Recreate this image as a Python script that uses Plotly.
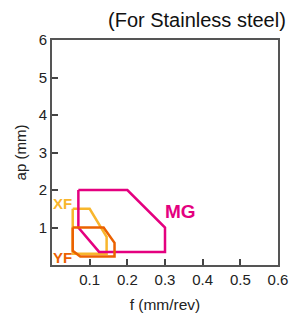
import plotly.graph_objects as go

# Data
mg_f = [0.07, 0.2, 0.3, 0.3, 0.125, 0.07, 0.07]
mg_ap = [2.0, 2.0, 1.0, 0.35, 0.35, 1.0, 2.0]
xf_f = [0.055, 0.1, 0.145, 0.145, 0.055, 0.055]
xf_ap = [1.5, 1.5, 0.75, 0.3, 0.3, 1.5]
yf_f = [0.055, 0.137, 0.166, 0.166, 0.075, 0.055, 0.055]
yf_ap = [1.0, 1.0, 0.59, 0.23, 0.23, 0.38, 1.0]
x_ticks = [0.1, 0.2, 0.3, 0.4, 0.5, 0.6]
y_ticks = [1, 2, 3, 4, 5, 6]

C_MG = "#E4007F"
C_XF = "#F8B62D"
C_YF = "#EB6100"

fig = go.Figure()
fig.add_trace(go.Scatter(x=xf_f, y=xf_ap, mode="lines", line=dict(color=C_XF, width=2.5), hoverinfo="skip"))
fig.add_trace(go.Scatter(x=mg_f, y=mg_ap, mode="lines", line=dict(color=C_MG, width=2.5), hoverinfo="skip"))
fig.add_trace(go.Scatter(x=yf_f, y=yf_ap, mode="lines", line=dict(color=C_YF, width=2.5), hoverinfo="skip"))

font = "Liberation Sans, Arial, sans-serif"
fig.add_annotation(x=0.34, y=1.42, text="<b>MG</b>", showarrow=False, font=dict(color=C_MG, size=19, family=font))
fig.add_annotation(x=0.028, y=1.65, text="<b>XF</b>", showarrow=False, font=dict(color=C_XF, size=15, family=font))
fig.add_annotation(x=0.028, y=0.2, text="<b>YF</b>", showarrow=False, font=dict(color=C_YF, size=15, family=font))

fig.add_annotation(xref="paper", yref="paper", x=1.0, xshift=10, y=1.0, yshift=20, xanchor="right", yanchor="middle",
                   text="(For Stainless steel)", showarrow=False, font=dict(size=20, color="#111", family=font))

axis_common = dict(showgrid=False, zeroline=False, showline=True, linecolor="#555", linewidth=2,
                   mirror=True, ticks="inside", ticklen=6, tickwidth=1.5, tickcolor="#444",
                   automargin=False,
                   tickfont=dict(size=15, color="#222", family=font))
fig.update_xaxes(range=[0, 0.6], tickvals=x_ticks, ticktext=[str(v) for v in x_ticks],
                 title=dict(text="f (mm/rev)", font=dict(size=15.5, color="#222", family=font), standoff=12),
                 **axis_common)
fig.update_yaxes(range=[0, 6], tickvals=y_ticks, ticktext=[str(v) for v in y_ticks],
                 title=dict(text="ap (mm)", font=dict(size=15, color="#222", family=font), standoff=8),
                 **axis_common)

fig.update_layout(width=289, height=315, margin=dict(l=52, r=11, t=40, b=50),
                  plot_bgcolor="white", paper_bgcolor="white", showlegend=False)

fig.write_html("out.html", config={"displayModeBar": False},
               post_script="document.body.style.margin='0';document.body.style.overflow='hidden';")
